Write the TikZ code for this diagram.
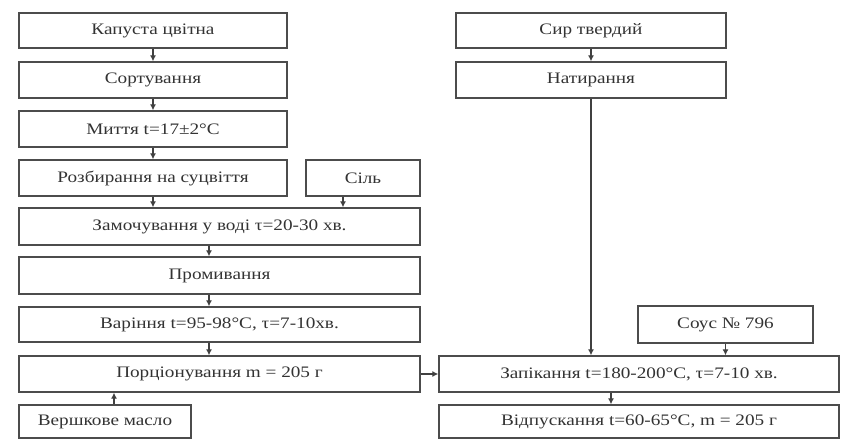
\documentclass[tikz,border=0pt]{standalone}
\usepackage{fontspec}
\setmainfont[FakeStretch=1.2]{Liberation Serif}
\usetikzlibrary{arrows.meta}
\begin{document}
\begin{tikzpicture}[x=1pt,y=-1pt,
  box/.style={draw=black!70,line width=1.3pt,inner sep=0pt,font=\fontsize{16}{18}\selectfont,text=black!80},
  arr/.style={draw=black!75,line width=1.3pt,-{Latex[length=6pt,width=6pt]}}]
\useasboundingbox[fill=white] (0,0) rectangle (841,440);
\node[box,minimum width=268pt,minimum height=35pt] (kap) at (153,30.5) {Капуста цвітна};
\node[box,minimum width=268pt,minimum height=36pt] (sort) at (153,80) {Сортування};
\node[box,minimum width=268pt,minimum height=36pt] (myt) at (153,129) {Миття t=17±2°С};
\node[box,minimum width=268pt,minimum height=36pt] (rozb) at (153,178) {Розбирання на суцвіття};
\node[box,minimum width=114pt,minimum height=36pt] (sil) at (363,178) {Сіль};
\node[box,minimum width=401pt,minimum height=37pt] (zam) at (219.5,226.5) {Замочування у воді τ=20-30 хв.};
\node[box,minimum width=401pt,minimum height=37pt] (prom) at (219.5,275.5) {Промивання};
\node[box,minimum width=401pt,minimum height=35pt] (var) at (219.5,324.5) {Варіння t=95-98°С, τ=7-10хв.};
\node[box,minimum width=401pt,minimum height=36pt] (porc) at (219.5,374) {Порціонування m = 205 г};
\node[box,minimum width=172pt,minimum height=33pt] (versh) at (105,421.5) {Вершкове масло};
\node[box,minimum width=270pt,minimum height=35pt] (syr) at (591,30.5) {Сир твердий};
\node[box,minimum width=270pt,minimum height=36pt] (nat) at (591,80) {Натирання};
\node[box,minimum width=175pt,minimum height=37pt] (sous) at (725.5,324.5) {Соус № 796};
\node[box,minimum width=400pt,minimum height=36pt] (zap) at (639,374) {Запікання t=180-200°С, τ=7-10 хв.};
\node[box,minimum width=400pt,minimum height=33pt] (vidp) at (639,421.5) {Відпускання t=60-65°С, m = 205 г};
\coordinate (silout) at ([xshift=-20pt]sil.south);
\coordinate (vershout) at ([xshift=9pt]versh.north);
\draw[arr] (kap.south) -- (sort.north);
\draw[arr] (sort.south) -- (myt.north);
\draw[arr] (myt.south) -- (rozb.north);
\draw[arr] (rozb.south) -- (zam.north -| rozb.south);
\draw[arr] (silout) -- (zam.north -| silout);
\draw[arr] ([xshift=-10.5pt]zam.south) -- ([xshift=-10.5pt]prom.north);
\draw[arr] ([xshift=-10.5pt]prom.south) -- ([xshift=-10.5pt]var.north);
\draw[arr] ([xshift=-10.5pt]var.south) -- ([xshift=-10.5pt]porc.north);
\draw[arr] (vershout) -- (porc.south -| vershout);
\draw[arr] (syr.south) -- (nat.north);
\draw[arr] (nat.south) -- (zap.north -| nat.south);
\draw[arr] (sous.south) -- (zap.north -| sous.south);
\draw[arr] (porc.east) -- (zap.west);
\draw[arr] ([xshift=-28pt]zap.south) -- ([xshift=-28pt]vidp.north);
\end{tikzpicture}
\end{document}
